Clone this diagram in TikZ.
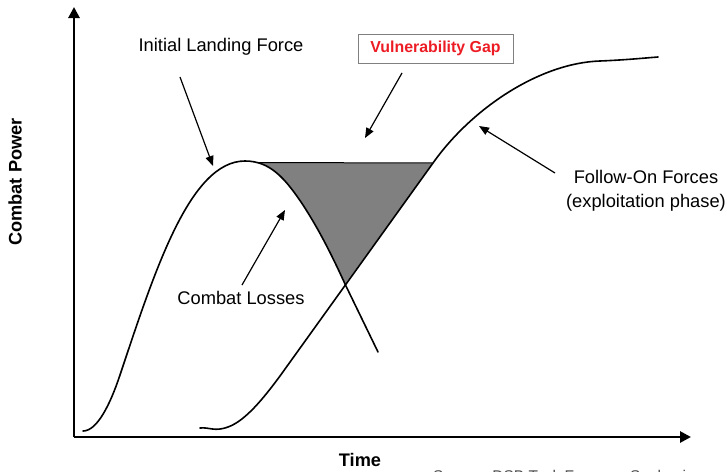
\documentclass[tikz,border=0pt]{standalone}
\usepackage{fontspec}
\setmainfont{Liberation Sans}
\usetikzlibrary{arrows.meta}
\definecolor{gapred}{RGB}{237,28,36}
\definecolor{gapgray}{RGB}{128,128,128}
\tikzset{
    axis/.style={line width=2.7pt,-{Triangle[length=11pt,width=11pt]}},
    curve/.style={line width=1.6pt,line cap=round},
    pointer/.style={line width=1.2pt,-{Triangle[length=10pt,width=8pt]}},
    lbl/.style={font=\fontsize{18.3}{24}\selectfont,align=center,inner sep=0pt},
    bold/.style={font=\fontsize{18.2}{22}\selectfont\bfseries,inner sep=0pt}
}
\begin{document}
\begin{tikzpicture}[x=1pt,y=-1pt]
        \useasboundingbox (0,0) rectangle (727,471);
        % axes
        \coordinate (origin) at (74,437);
        \coordinate (ytop) at (74,7);
        \coordinate (xend) at (691,437);
        \draw[axis] (origin) -- (ytop);
        \draw[axis] (origin) -- (xend);
        \node[bold,rotate=90] (power) at (15,182) {Combat Power};
        \node[bold] (time) at (360,460) {Time};
        % vulnerability gap
        \begin{scope}
            \clip (240,163) -- (433,163) -- (340,291) -- (240,291) -- cycle;
            \fill[gapgray] (245,161) .. controls (270,161) and (285,178) .. (303,205)
                .. controls (312,219) and (325,240) .. (345,284) -- (378,352)
                -- (500,352) -- (500,163) -- cycle;
        \end{scope}
        \draw[line width=1pt] (257,162.5) -- (433,163);
        % initial landing force
        \draw[curve] (83,431) .. controls (97,431) and (110,405) .. (120,375)
            .. controls (155,270) and (190,161) .. (245,161)
            .. controls (270,161) and (285,178) .. (303,205)
            .. controls (312,219) and (325,240) .. (345,284) -- (378,352);
        % follow-on forces
        \draw[curve] (200,428) .. controls (210,427) and (214,432) .. (228,427)
            .. controls (245,421) and (263,399) .. (280,376) -- (433,163)
            .. controls (472,108) and (540,63) .. (600,61)
            .. controls (625,60) and (645,58) .. (658,57);
        % labels
        \node[lbl] (ilf) at (221,47) {Initial Landing Force};
        \node[draw=gray,line width=1pt,minimum width=155pt,minimum height=29pt,text=gapred,font=\fontsize{15.9}{18}\selectfont\bfseries] (gap) at (435.5,48.5) {Vulnerability Gap};
        \node[lbl] (follow) at (646,191) {Follow-On Forces\\(exploitation phase)};
        \node[lbl] (losses) at (241,298) {Combat Losses};
        \node[font=\fontsize{15.5}{18}\selectfont,anchor=base west,inner sep=0pt,text=black!70] (source) at (433,481) {Source: DSB Task Force on Seabasing};
        % pointers
        \coordinate (ilftail) at (180,77);
        \coordinate (ilfhead) at (213,166);
        \coordinate (gaptail) at (402,73);
        \coordinate (gaphead) at (365,138);
        \coordinate (followtail) at (555,173);
        \coordinate (followhead) at (479,126);
        \coordinate (lossestail) at (242,285);
        \coordinate (losseshead) at (285,210);
        \draw[pointer] (ilftail) -- (ilfhead);
        \draw[pointer] (gaptail) -- (gaphead);
        \draw[pointer] (followtail) -- (followhead);
        \draw[pointer] (lossestail) -- (losseshead);
    \end{tikzpicture}
\end{document}
